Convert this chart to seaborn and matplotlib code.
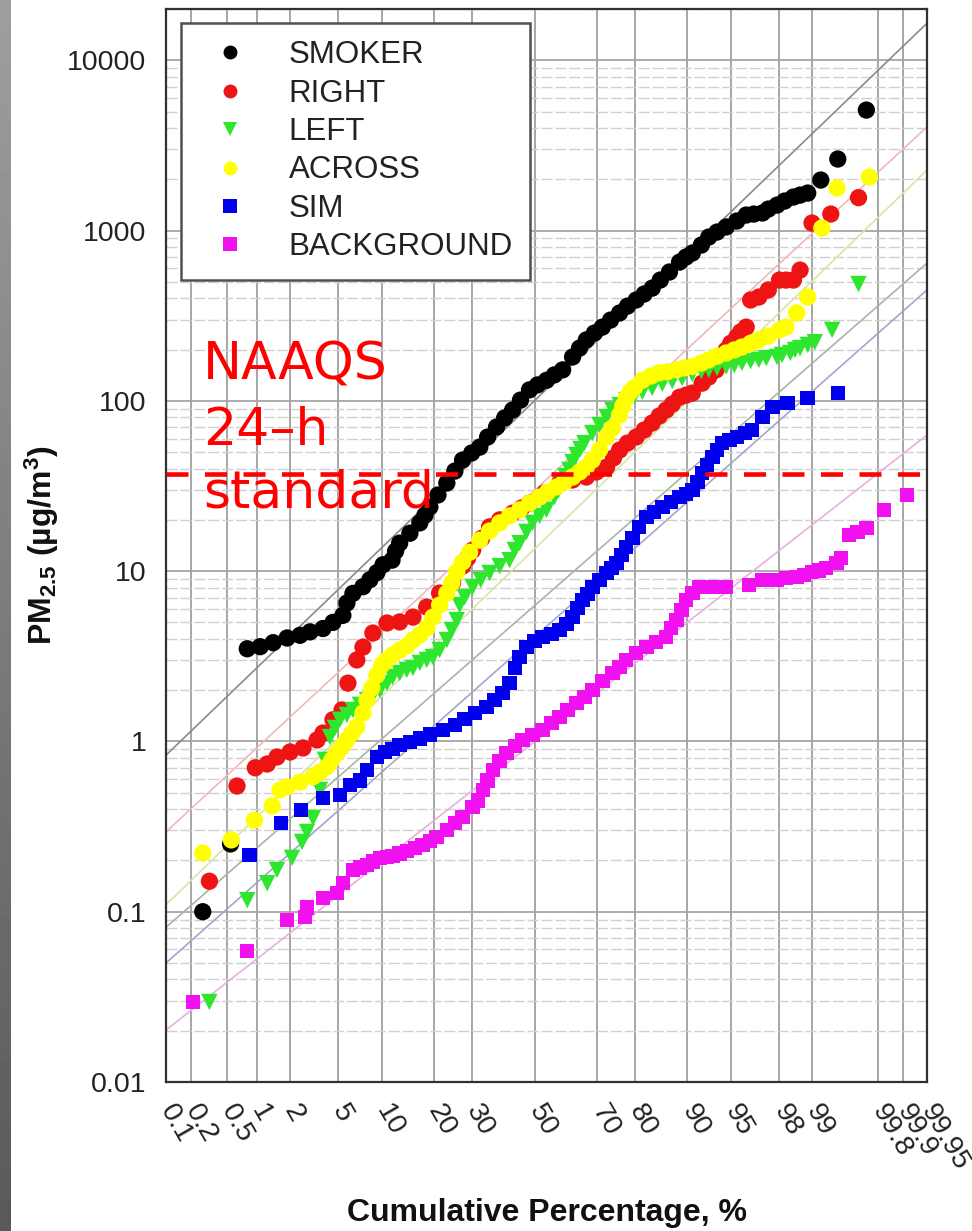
import numpy as np
import pandas as pd
import matplotlib
matplotlib.use("Agg")
import matplotlib.pyplot as plt
import seaborn as sns
from matplotlib.lines import Line2D
from math import erf, sqrt

# ---------------- data (cumulative %, PM2.5 value) ----------------
series_names = ["SMOKER", "RIGHT", "LEFT", "ACROSS", "SIM", "BACKGROUND"]

smoker_pct = [0.27, 0.54, 0.80, 1.07, 1.42, 1.90, 2.46, 2.99, 3.80, 4.55, 5.40, 5.78, 6.39, 7.51, 8.37,
              9.31, 10.2, 11.6, 12.2, 12.9, 14.8, 16.8, 17.9, 19.0, 20.9, 23.1, 25.2, 27.3, 29.9, 32.3, 34.7, 37.5,
              40.1, 42.7, 45.3, 48.3, 51.0, 54.0, 56.6, 59.3, 62.5, 64.7, 66.8, 69.2, 71.5, 73.8, 76.2,
              78.2, 80.3, 82.1, 83.8, 85.4, 87.1, 88.8, 89.8, 90.7, 91.9, 92.8, 93.7, 94.6, 95.5, 96.2,
              96.7, 97.2, 97.5, 97.9, 98.2, 98.5, 98.7, 98.9, 99.18, 99.45, 99.73]
smoker_val = [0.10, 0.25, 3.5, 3.6, 3.8, 4.05, 4.2, 4.4, 4.6, 5.0, 5.5, 6.5, 7.4, 8.1, 8.9,
              9.8, 10.9, 11.6, 13.1, 14.6, 16.7, 19.2, 21.3, 23.8, 28.0, 32.9, 38.7, 44.9, 49.4, 53.5, 61.3, 70.2,
              79.3, 88.3, 101, 116, 124, 132, 142, 152, 181, 204, 228, 250, 271, 298, 328,
              360, 391, 424, 459, 512, 571, 653, 699, 738, 822, 916, 980, 1050, 1137, 1233,
              1250, 1268, 1337, 1411, 1490, 1573, 1615, 1660, 1980, 2630, 5100]

right_pct = [0.32, 0.63, 0.96, 1.25, 1.54, 2.02, 2.61, 3.41, 3.80, 4.55, 5.32, 5.88, 6.81, 7.51, 8.76,
             10.8, 12.9, 15.4, 18.3, 21.3, 24.6, 27.3, 28.7, 30.2, 32.9, 35.3, 38.5, 42.7, 45.7, 48.3, 53.3,
             58.3, 62.5, 66.8, 69.8, 72.7, 74.6, 76.2, 78.2, 80.3, 82.1, 83.8, 85.2, 86.5, 87.6, 88.8,
             89.8, 90.7, 92.0, 92.8, 93.6, 94.1, 94.6, 95.0, 95.5, 95.8, 96.2, 96.5, 97.0, 97.5, 98.0,
             98.25, 98.5, 98.7, 99.0, 99.35, 99.67]
right_val = [0.151, 0.547, 0.70, 0.737, 0.81, 0.867, 0.915, 1.02, 1.12, 1.34, 1.53, 2.20, 3.01, 3.58, 4.33,
             4.96, 5.03, 5.37, 6.15, 7.43, 8.51, 10.7, 11.9, 13.3, 15.6, 18.2, 20.0, 21.9, 23.5, 25.1, 28.7,
             32.9, 34.3, 35.7, 38.2, 40.8, 46.2, 51.4, 56.5, 61.3, 67.4, 74.1, 81.4, 88.3, 95.7, 105,
             108, 111, 127, 138, 152, 174, 199, 218, 237, 254, 271, 391, 407, 448, 512,
             512, 512, 586, 1107, 1250, 1560]

left_pct = [0.32, 0.80, 1.25, 1.54, 2.10, 2.56, 2.82, 3.16, 3.60, 3.94, 4.32, 4.71, 5.14, 5.78, 6.39,
            7.16, 8.0, 8.76, 9.73, 10.8, 11.7, 12.9, 14.2, 15.4, 16.8, 18.3, 19.7, 21.3, 23.1, 24.4,
            25.7, 26.5, 27.9, 30.2, 32.6, 35.3, 38.5, 41.7, 43.4, 45.0, 47.3, 49.3, 51.7, 54.0, 56.6,
            58.0, 59.3, 60.2, 61.5, 62.5, 63.7, 65.0, 66.2, 68.6, 70.7, 72.7, 74.3, 76.2, 77.9, 79.9,
            81.7, 83.8, 85.8, 87.6, 89.2, 90.7, 91.9, 92.8, 93.7, 94.6, 95.3, 95.9, 96.5, 97.0, 97.4,
            97.9, 98.1, 98.4, 98.55, 98.7, 98.9, 99.06, 99.37, 99.67]
left_val = [0.0295, 0.117, 0.147, 0.176, 0.207, 0.257, 0.294, 0.355, 0.519, 0.78, 1.06, 1.20, 1.34, 1.43, 1.53,
            1.64, 1.75, 1.87, 2.00, 2.20, 2.39, 2.52, 2.63, 2.70, 2.89, 3.01, 3.13, 3.44, 3.94, 4.51,
            5.16, 6.32, 7.04, 8.07, 8.87, 9.75, 10.7, 11.6, 13.3, 14.6, 17.0, 19.2, 21.1, 22.9, 27.2,
            29.9, 32.9, 36.2, 39.3, 43.7, 48.1, 52.1, 56.5, 64.7, 72.1, 80.3, 88.3, 94.4, 101, 107,
            113, 119, 126, 131, 136, 144, 150, 152, 156, 159, 162, 167, 171, 174, 178,
            181, 186, 191, 199, 204, 213, 221, 261, 485]

across_pct = [0.27, 0.55, 0.94, 1.39, 1.64, 1.90, 2.46, 3.16, 3.60, 4.09, 4.47, 4.88, 5.32, 5.78, 6.29,
              6.81, 7.51, 8.0, 8.63, 9.31, 10.0, 10.8, 11.7, 12.9, 14.2, 15.4, 16.8, 18.3, 19.7, 21.3,
              23.1, 24.4, 25.7, 27.3, 29.3, 32.3, 35.3, 38.5, 41.7, 45.0, 48.3, 51.7, 54.3, 57.3, 59.9,
              62.5, 64.7, 66.8, 68.6, 70.7, 72.7, 74.3, 76.2, 77.0, 77.9, 78.9, 79.9, 81.7, 83.6, 85.2,
              86.7, 88.3, 89.5, 90.7, 91.9, 92.8, 93.7, 94.6, 95.3, 95.9, 96.5, 97.0, 97.5, 98.0, 98.25,
              98.6, 98.9, 99.2, 99.44, 99.75]
across_val = [0.221, 0.264, 0.345, 0.418, 0.519, 0.54, 0.578, 0.62, 0.661, 0.71, 0.78, 0.855, 0.927, 1.02, 1.12,
              1.22, 1.47, 1.75, 2.06, 2.45, 2.81, 3.01, 3.22, 3.44, 3.63, 3.94, 4.22, 4.63, 5.37, 6.32,
              7.43, 8.51, 9.88, 11.3, 12.9, 15.2, 17.2, 19.2, 21.1, 22.9, 25.1, 27.2, 29.1, 31.2, 33.4,
              35.7, 38.2, 40.8, 44.9, 51.4, 61.3, 69.2, 82.5, 93, 104, 113, 120, 132, 140, 146,
              148, 152, 156, 159, 167, 174, 183, 191, 199, 207, 218, 228, 240, 261, 271,
              328, 407, 1035, 1778, 2061]

sim_pct = [0.84, 1.68, 2.51, 3.80, 5.14, 6.07, 7.16, 8.0, 9.31, 10.5, 11.7, 12.9, 14.8, 16.8, 19.0,
           22.1, 25.2, 27.9, 30.8, 34.4, 36.9, 39.4, 41.7, 43.4, 45.0, 47.3, 50.0, 52.7, 55.6, 58.3,
           60.6, 62.5, 64.1, 65.6, 67.1, 68.6, 70.7, 72.7, 74.0, 75.4, 76.7, 77.9, 79.4, 81.0, 82.6,
           84.2, 85.8, 87.4, 88.8, 89.8, 90.7, 91.4, 92.0, 92.6, 93.2, 93.7, 94.2, 94.9, 95.5, 96.1,
           96.6, 97.2, 97.7, 98.3, 98.9, 99.45]
sim_val = [0.215, 0.332, 0.396, 0.465, 0.485, 0.555, 0.59, 0.68, 0.81, 0.867, 0.90, 0.95, 0.99, 1.04, 1.10,
           1.17, 1.25, 1.35, 1.47, 1.59, 1.75, 1.92, 2.20, 2.70, 3.13, 3.58, 3.89, 4.10, 4.27, 4.51,
           4.89, 5.37, 6.07, 6.77, 7.34, 8.07, 8.87, 9.75, 10.4, 11.2, 12.4, 13.9, 15.6, 18.2, 20.8,
           22.2, 23.8, 25.5, 27.2, 28.4, 29.9, 33.4, 37.7, 42.0, 46.8, 51.4, 56.5, 59.0, 61.3, 64.7,
           67.4, 80.3, 92, 97, 104, 111]

background_pct = [0.21, 0.80, 1.90, 2.71, 2.82, 3.80, 4.88, 5.40, 6.39, 7.16, 8.0, 8.76, 9.73, 10.8, 11.7,
                  12.9, 14.2, 15.8, 17.4, 19.0, 20.6, 23.1, 25.2, 27.3, 30.2, 31.7, 33.2, 34.7, 36.3, 38.5,
                  40.7, 43.4, 46.0, 49.3, 52.7, 55.6, 58.3, 60.9, 63.7, 66.2, 68.6, 71.5, 74.3, 76.2, 77.9,
                  80.3, 82.6, 84.6, 86.5, 87.4, 88.3, 89.1, 89.8, 90.7, 91.6, 93.2, 94.6, 96.4, 97.2, 97.9,
                  98.25, 98.6, 98.8, 99.0, 99.15, 99.27, 99.43, 99.49, 99.58, 99.66, 99.73, 99.83, 99.91]
background_val = [0.0295, 0.0588, 0.0894, 0.0931, 0.106, 0.120, 0.129, 0.147, 0.176, 0.182, 0.188, 0.197, 0.207, 0.21, 0.212,
                  0.22, 0.227, 0.236, 0.246, 0.26, 0.275, 0.302, 0.332, 0.360, 0.412, 0.45, 0.519, 0.59, 0.68, 0.767,
                  0.855, 0.94, 1.02, 1.09, 1.17, 1.28, 1.39, 1.53, 1.68, 1.82, 2.00, 2.26, 2.52, 2.73, 3.01,
                  3.30, 3.58, 3.83, 4.10, 4.63, 5.16, 5.91, 6.77, 7.43, 8.07, 8.07, 8.07, 8.29, 8.87, 8.87,
                  9.11, 9.24, 9.48, 9.88, 10.1, 10.4, 11.2, 11.9, 16.3, 17.0, 17.9, 22.9, 28.0]

# reference (lognormal) lines: value at 0.1 % and at 99.95 %
ref_lo = [0.83, 0.294, 0.11, 0.081, 0.050, 0.0202]
ref_hi = [16500, 4060, 2265, 644, 448, 63]

x_tick_pcts = [0.1, 0.2, 0.5, 1, 2, 5, 10, 20, 30, 50, 70, 80, 90, 95, 98, 99, 99.8, 99.9, 99.95]
x_tick_labels = ["0.1", "0.2", "0.5", "1", "2", "5", "10", "20", "30", "50", "70", "80", "90", "95",
                 "98", "99", "99.8", "99.9", "99.95"]
y_ticks = [0.01, 0.1, 1, 10, 100, 1000, 10000]
y_tick_labels = ["0.01", "0.1", "1", "10", "100", "1000", "10000"]
naaqs_value = 37
naaqs_lines = ["NAAQS", "24\u2013h", "standard"]


# ---------------- helpers: probability axis ----------------
def norm_cdf(z):
    return 0.5 * (1.0 + erf(z / sqrt(2.0)))


def norm_ppf(p):
    p = np.atleast_1d(np.asarray(p, dtype=float))
    out = np.empty_like(p)
    for i, pi in enumerate(p):
        lo, hi = -9.0, 9.0
        for _ in range(80):
            mid = 0.5 * (lo + hi)
            if norm_cdf(mid) < pi:
                lo = mid
            else:
                hi = mid
        out[i] = 0.5 * (lo + hi)
    return out


pct_lists = [smoker_pct, right_pct, left_pct, across_pct, sim_pct, background_pct]
val_lists = [smoker_val, right_val, left_val, across_val, sim_val, background_val]
frames = []
for name, pl, vl in zip(series_names, pct_lists, val_lists):
    frames.append(pd.DataFrame({"series": name, "z": norm_ppf(np.array(pl) / 100.0), "value": vl}))
df = pd.concat(frames, ignore_index=True)

colors = {"SMOKER": "#000000", "RIGHT": "#ee1414", "LEFT": "#2ee62e", "ACROSS": "#ffff00",
          "SIM": "#0000ee", "BACKGROUND": "#f010f0"}
markers = {"SMOKER": "o", "RIGHT": "o", "LEFT": "v", "ACROSS": "o", "SIM": "s", "BACKGROUND": "s"}
sizes = {"o": 155, "v": 140, "s": 108}
ref_colors = ["#8a8a8a", "#f0b8b8", "#d8e4a8", "#a8b4a8", "#a4a4d0", "#e6b0e0"]

# ---------------- figure ----------------
sns.set_theme(style="white")
plt.rcParams["font.family"] = ["Liberation Sans", "DejaVu Sans"]
plt.rcParams["mathtext.fontset"] = "custom"
plt.rcParams["mathtext.rm"] = "Liberation Sans:bold"
plt.rcParams["mathtext.bf"] = "Liberation Sans:bold"
plt.rcParams["mathtext.default"] = "bf"

W, H = 972, 1231
fig = plt.figure(figsize=(W / 100, H / 100), dpi=100)
fig.patch.set_facecolor("white")

# dark strip on the left edge
strip = fig.add_axes([0, 0, 10 / W, 1])
grad = np.linspace(0.62, 0.35, 200).reshape(-1, 1)
strip.imshow(grad, aspect="auto", cmap="gray", vmin=0, vmax=1, extent=[0, 1, 0, 1])
strip.set_axis_off()

L, R, T, B = 166, 927, 9, 1082
ax = fig.add_axes([L / W, 1 - B / H, (R - L) / W, (B - T) / H])
ax.set_yscale("log")
zlim = norm_ppf(np.array([0.1, 99.95]) / 100.0)
ax.set_xlim(zlim[0], zlim[1])
ax.set_ylim(0.01, 20000)

# grid
ax.set_xticks(norm_ppf(np.array(x_tick_pcts) / 100.0))
ax.set_xticklabels(x_tick_labels)
ax.set_yticks(y_ticks)
ax.set_yticklabels(y_tick_labels)
ax.yaxis.set_minor_locator(matplotlib.ticker.LogLocator(base=10, subs=np.arange(2, 10)))
ax.yaxis.set_minor_formatter(matplotlib.ticker.NullFormatter())
ax.grid(axis="x", which="major", color="#a6a6a6", lw=1.4)
ax.grid(axis="y", which="major", color="#a6a6a6", lw=1.3)
ax.grid(axis="y", which="minor", color="#d0d0d0", lw=1.0, ls=(0, (8, 2)))
ax.set_axisbelow(True)

# reference lines
for c, lo, hi in zip(ref_colors, ref_lo, ref_hi):
    sns.lineplot(x=list(zlim), y=[lo, hi], ax=ax, color=c, lw=1.2, zorder=1.5)

# data points
for name in series_names:
    sub = df[df["series"] == name]
    m = markers[name]
    sns.scatterplot(data=sub, x="z", y="value", ax=ax, color=colors[name], marker=m,
                    s=sizes[m], edgecolor="none", linewidth=0, legend=False, zorder=3)

# NAAQS line + text
ax.axhline(naaqs_value, color="#ff0000", lw=3.3, ls=(0, (4.8, 3.6)), zorder=4)
for txt, base_y in zip(naaqs_lines, [379, 445, 507]):
    fig.text(203 / W, 1 - base_y / H, txt, color="#ff0000", fontsize=37.5, family="DejaVu Sans",
             ha="left", va="baseline", zorder=5)

# spines / ticks
for s in ax.spines.values():
    s.set_color("#303030")
    s.set_linewidth(1.6)
ax.tick_params(axis="both", which="major", direction="out", length=8, width=1.4, color="#303030",
               labelsize=20.5, labelcolor="#222222")
ax.tick_params(axis="y", which="minor", direction="in", length=6, width=1.0, color="#606060")
ax.tick_params(axis="y", which="major", pad=6)
for lab in ax.get_xticklabels():
    lab.set_rotation(-60)
    lab.set_rotation_mode("anchor")
    lab.set_ha("left")
    lab.set_va("center")
ax.tick_params(axis="x", which="major", pad=10)

ax.set_xlabel("Cumulative Percentage, %", fontsize=23, fontweight="bold", color="#111111")
ax.set_ylabel("PM$_{2.5}$ (µg/m$^{3}$)", fontsize=23, fontweight="bold", color="#111111")
ax.xaxis.set_label_coords(0.5, -0.108)
ax.yaxis.set_label_coords(-0.138, 0.5)

# legend
handles = [Line2D([], [], ls="none", marker=markers[n], color=colors[n], markersize=10,
                  markeredgewidth=0) for n in series_names]
leg = ax.legend(handles, series_names, loc="upper left", bbox_to_anchor=((181 - L) / (R - L), (B - 23) / (B - T)),
                fontsize=22.5, frameon=True, fancybox=False, edgecolor="#505050", framealpha=1,
                borderpad=0.55, handlelength=2.05, handletextpad=0.85, labelspacing=0.27,
                borderaxespad=0)
leg.get_frame().set_linewidth(1.8)
for t in leg.get_texts():
    t.set_color("#222222")
leg.set_zorder(6)

fig.savefig("out.png", dpi=100)
